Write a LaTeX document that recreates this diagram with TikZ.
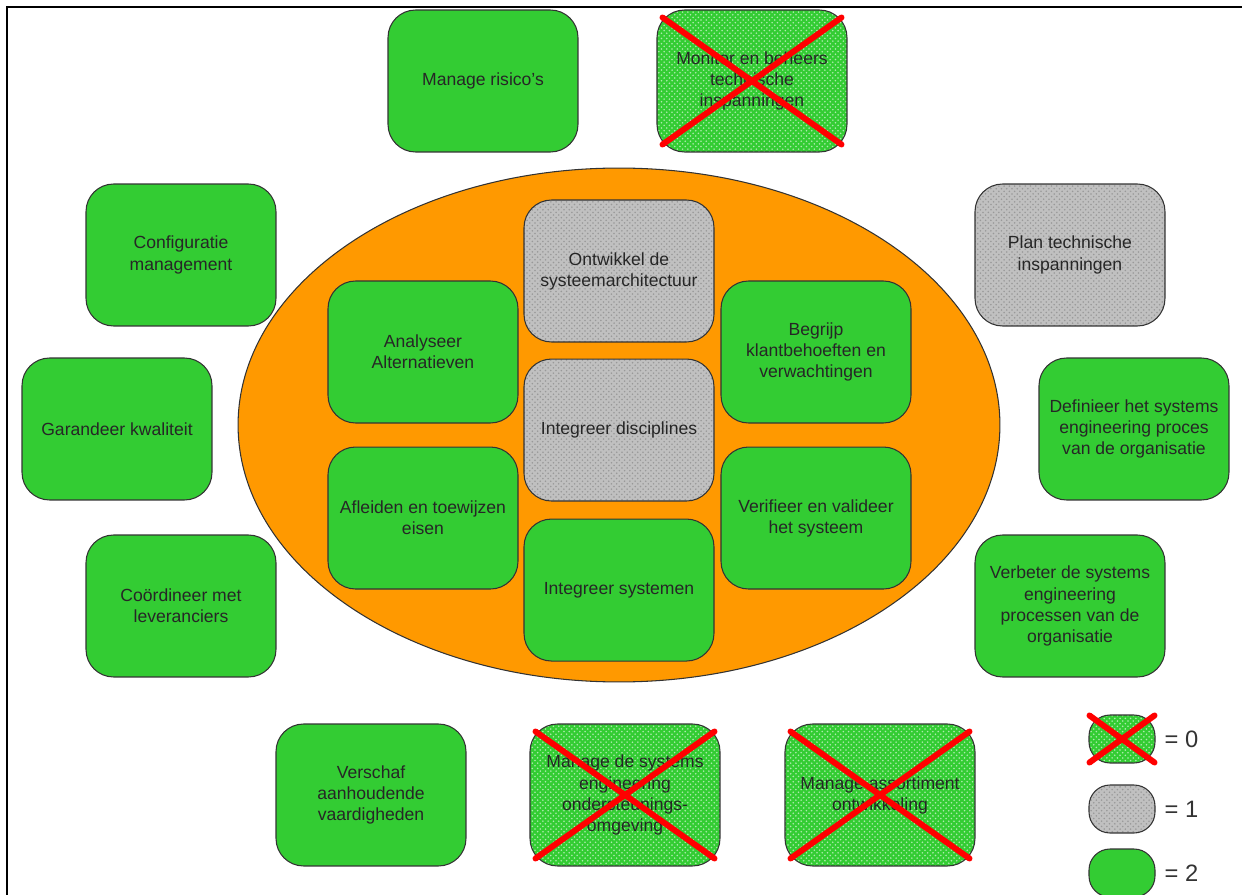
\documentclass[tikz,border=0pt]{standalone}
\usepackage{fontspec}
\setmainfont{Liberation Sans}
\usepackage{xcolor}
\usepackage{tikz}
\usetikzlibrary{positioning, shapes.geometric, patterns}

\definecolor{taakgroen}{RGB}{51,204,51}
\definecolor{kernoranje}{RGB}{255,153,0}
\definecolor{taakgrijs}{RGB}{192,192,192}

\begin{document}
\begin{tikzpicture}[
        x=0.02cm, y=-0.02cm,
        taak/.style={
            rectangle, rounded corners=0.55cm, draw=black!80, line width=0.6pt,
            fill=taakgroen, minimum width=3.8cm, minimum height=2.84cm,
            align=center, inner sep=2pt, text=black!85,
            font=\fontsize{10}{12}\selectfont
        },
        taakeen/.style={taak, preaction={fill=taakgrijs},
            pattern=crosshatch dots, pattern color=black!40},
        taaknul/.style={taak, preaction={fill=taakgroen},
            pattern=crosshatch dots, pattern color=white!60!taakgroen},
        kruis/.style={red, line width=3.4pt, line cap=round},
        kern/.style={ellipse, draw=black!80, line width=0.6pt, fill=kernoranje,
            minimum width=15.24cm, minimum height=10.28cm},
        leg/.style={minimum width=1.32cm, minimum height=0.96cm, rounded corners=0.42cm},
        legtekst/.style={font=\fontsize{13.5}{15}\selectfont, text=black!80, right=0.06cm}
    ]
    \useasboundingbox (0,0) rectangle (1242,895);

    % === Frame ===
    \draw[line width=1.7pt] (7,895) -- (7,7) -- (1242,7);

    % === Core processes ===
    \node[kern] (kern) at (619,425) {};
    \node[taakeen] (architectuur) at (619,271) {Ontwikkel de\\systeemarchitectuur};
    \node[taakeen, below=0.32cm of architectuur] (disciplines) {Integreer disciplines};
    \node[taak, below=0.34cm of disciplines] (systemen) {Integreer systemen};
    \node[taak] (alternatieven) at (423,352) {Analyseer\\Alternatieven};
    \node[taak, below=0.46cm of alternatieven] (eisen) {Afleiden en toewijzen\\eisen};
    \node[taak] (klant) at (816,352) {Begrijp\\klantbehoeften en\\verwachtingen};
    \node[taak, below=0.46cm of klant] (verifieer) {Verifieer en valideer\\het systeem};

    % === Supporting processes ===
    \node[taak] (risico) at (483,81) {Manage risico's};
    \node[taaknul] (monitor) at (752,81) {Monitor en beheers\\technische\\inspanningen};
    \node[taak] (configuratie) at (181,255) {Configuratie\\management};
    \node[taakeen] (plan) at (1070,255) {Plan technische\\inspanningen};
    \node[taak] (kwaliteit) at (117,429) {Garandeer kwaliteit};
    \node[taak] (definieer) at (1134,429) {Definieer het systems\\engineering proces\\van de organisatie};
    \node[taak] (leveranciers) at (181,606) {Co\"ordineer met\\leveranciers};
    \node[taak] (verbeter) at (1070,606) {Verbeter de systems\\engineering\\processen van de\\organisatie};
    \node[taak] (vaardigheden) at (371,795) {Verschaf\\aanhoudende\\vaardigheden};
    \node[taaknul] (omgeving) at (625,795) {Manage de systems\\engineering\\ondersteunings-\\omgeving};
    \node[taaknul] (assortiment) at (880,795) {Manage assortiment\\ontwikkeling};

    % === Crossed out (score 0) ===
    \foreach \n in {monitor, omgeving, assortiment} {
        \draw[kruis] ([shift={(6,8)}]\n.north west) -- ([shift={(-6,-8)}]\n.south east);
        \draw[kruis] ([shift={(-6,8)}]\n.north east) -- ([shift={(6,-8)}]\n.south west);
    }

    % === Legend ===
    \node[taaknul, leg] (leg0) at (1122,739) {};
    \draw[kruis] ([shift={(1,1)}]leg0.north west) -- ([shift={(-1,-1)}]leg0.south east);
    \draw[kruis] ([shift={(-1,1)}]leg0.north east) -- ([shift={(1,-1)}]leg0.south west);
    \node[taakeen, leg] (leg1) at (1122,809) {};
    \node[taak, leg] (leg2) at (1122,873) {};
    \node[legtekst] at (leg0.east) {= 0};
    \node[legtekst] at (leg1.east) {= 1};
    \node[legtekst] at (leg2.east) {= 2};
\end{tikzpicture}
\end{document}
